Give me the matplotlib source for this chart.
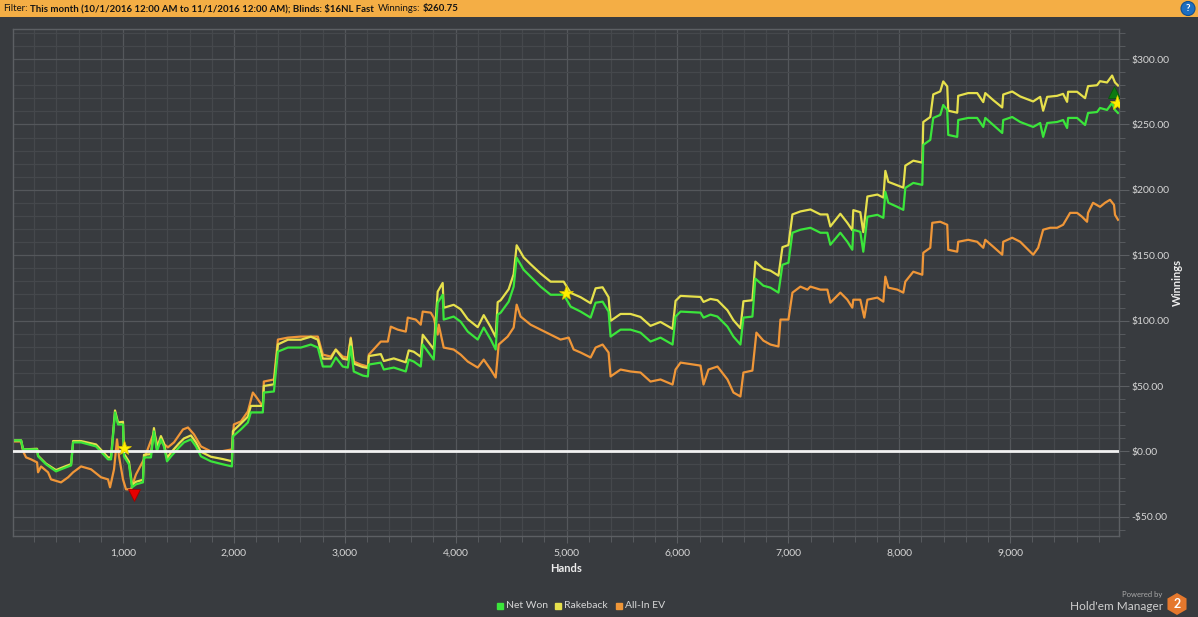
import matplotlib
matplotlib.use('Agg')
import matplotlib.pyplot as plt
from matplotlib.ticker import MultipleLocator, FuncFormatter
from matplotlib.patches import Rectangle, Circle, RegularPolygon
from matplotlib.lines import Line2D
from matplotlib.transforms import IdentityTransform

# ---------------- data ----------------
net_hands = [27, 81, 99, 225, 234, 279, 306, 396, 441, 486,
             532, 550, 622, 757, 865, 892, 928, 955, 1000, 1009,
             1054, 1081, 1117, 1180, 1189, 1252, 1279, 1306, 1342, 1369,
             1397, 1433, 1505, 1550, 1613, 1658, 1703, 1793, 1901, 1982,
             1991, 2063, 2126, 2153, 2261, 2270, 2361, 2397, 2487, 2604,
             2694, 2757, 2802, 2874, 2919, 2982, 3027, 3054, 3081, 3162,
             3208, 3217, 3325, 3352, 3442, 3550, 3577, 3622, 3685, 3703,
             3802, 3838, 3883, 3892, 3982, 4045, 4109, 4199, 4253, 4316,
             4361, 4379, 4406, 4478, 4523, 4550, 4613, 4676, 4766, 4856,
             4974, 5037, 5127, 5217, 5262, 5325, 5379, 5397, 5487, 5577,
             5667, 5757, 5847, 5956, 5983, 6028, 6208, 6235, 6298, 6361,
             6451, 6505, 6568, 6595, 6676, 6703, 6775, 6839, 6911, 6947,
             7001, 7037, 7109, 7199, 7289, 7352, 7379, 7469, 7532, 7577,
             7586, 7649, 7676, 7713, 7803, 7857, 7875, 7902, 7983, 8037,
             8055, 8127, 8208, 8217, 8280, 8307, 8370, 8397, 8433, 8442,
             8523, 8532, 8622, 8703, 8758, 8776, 8848, 8929, 8938, 9019,
             9091, 9208, 9271, 9298, 9334, 9424, 9478, 9514, 9523, 9604,
             9676, 9703, 9784, 9811, 9874, 9920, 9946, 9973]
net_won = [8.4, 8.4, 1.5, 1.5, -3.8, -7.6, -9.9, -15.3, -13.7, -12.2,
           -10.7, 6.9, 6.9, 3.8, -6.1, -6.1, 29.8, 20.6, 20.6, -3.8,
           -9.9, -27.5, -25.2, -23.7, -4.6, -4.6, 15.3, 0.0, 9.2, 3.8,
           -7.6, -3.8, 3.1, 6.9, 9.2, 3.8, -3.8, -7.6, -9.9, -11.5,
           11.5, 16.8, 22.1, 29.8, 29.8, 45.0, 45.8, 76.3, 79.4, 79.4,
           81.7, 79.4, 64.9, 64.9, 71.8, 64.9, 64.1, 80.2, 61.1, 58.0,
           57.3, 66.4, 67.9, 62.6, 64.1, 61.1, 70.2, 68.7, 64.9, 81.7,
           70.2, 113.7, 119.8, 100.8, 103.1, 99.2, 91.6, 85.5, 94.7, 85.5,
           77.9, 104.6, 106.1, 114.5, 126.0, 148.1, 138.9, 133.6, 126.0, 119.8,
           119.8, 110.7, 106.9, 102.3, 113.7, 114.5, 106.9, 87.8, 93.1, 93.1,
           90.8, 84.0, 87.0, 81.7, 103.1, 106.9, 106.1, 102.3, 104.6, 103.1,
           95.4, 87.8, 81.7, 102.3, 103.1, 132.1, 126.7, 125.2, 121.4, 142.7,
           144.3, 167.2, 169.5, 171.0, 167.2, 167.2, 158.0, 167.2, 160.3, 154.2,
           169.5, 167.9, 152.7, 179.4, 180.9, 178.6, 198.5, 190.1, 187.0, 184.7,
           201.5, 205.3, 203.8, 234.4, 238.2, 255.0, 257.3, 264.9, 261.1, 242.0,
           240.5, 253.4, 255.0, 255.0, 248.1, 255.0, 249.6, 243.5, 253.4, 255.7,
           251.9, 248.1, 251.1, 240.5, 251.1, 251.9, 253.4, 247.3, 255.0, 255.0,
           249.6, 258.8, 259.5, 262.6, 261.1, 266.4, 261.1, 258.8]
# cumulative rakeback at the same hands (Rakeback line = Net Won + rakeback)
rakeback = [0, 0, 0, 0.5, 0.5, 0.5, 0.5, 1, 1, 1,
            1, 1, 1, 1.5, 1.5, 1.5, 1.5, 1.5, 2, 2,
            2, 2, 2, 2, 2, 2.5, 2.5, 2.5, 2.5, 2.5,
            2.5, 3, 3, 3, 3, 3, 3.5, 3.5, 4, 4,
            4, 4.5, 4.5, 5, 5, 5, 5.5, 5.5, 6, 6,
            6, 6, 6, 6, 6, 6, 6, 6, 6, 6.5,
            6.5, 6.5, 6.5, 6.5, 7, 7, 7, 7.5, 7.5, 7.5,
            8, 8.5, 9, 9, 9, 9.5, 9.5, 9.5, 9.5, 9.5,
            9.5, 9.5, 9.5, 9.5, 9.5, 9.5, 9.5, 9.5, 10, 10,
            10, 10.5, 11, 11, 11, 11, 11, 12, 12, 12,
            12, 12, 12, 12, 12, 12, 12, 12, 12, 12.5,
            12.5, 12.5, 12.5, 12.5, 12.5, 13, 13, 13, 13, 13.5,
            13.5, 14, 14, 14, 14, 14, 14, 14.5, 14.5, 15,
            15, 15, 15, 15.5, 15.5, 15.5, 16, 16, 16.5, 17,
            17, 17, 17, 17.5, 17.5, 18, 18, 18, 18, 18.5,
            18.5, 18.5, 19, 19, 19, 19, 19, 19.5, 19.5, 19.5,
            19.5, 19.5, 20, 20, 20, 20, 20, 20, 20, 20,
            20.5, 20.5, 20.5, 20.5, 21, 21, 21, 21]

ev_hands = [27, 81, 99, 126, 171, 225, 234, 261, 324, 351,
            441, 505, 550, 622, 712, 802, 865, 883, 919, 946,
            964, 1000, 1027, 1072, 1117, 1189, 1279, 1315, 1342, 1405,
            1460, 1541, 1586, 1640, 1703, 1793, 1883, 1982, 2000, 2063,
            2126, 2171, 2198, 2261, 2270, 2361, 2397, 2487, 2604, 2757,
            2802, 2874, 2919, 2982, 3027, 3054, 3081, 3144, 3208, 3217,
            3325, 3388, 3415, 3478, 3550, 3568, 3640, 3685, 3703, 3775,
            3802, 3838, 3847, 3892, 3982, 4045, 4109, 4199, 4253, 4316,
            4361, 4388, 4469, 4523, 4550, 4586, 4676, 4766, 4856, 4946,
            5019, 5064, 5127, 5217, 5262, 5325, 5379, 5397, 5487, 5577,
            5667, 5757, 5847, 5956, 5983, 6028, 6208, 6235, 6280, 6361,
            6451, 6505, 6568, 6595, 6676, 6712, 6775, 6839, 6911, 6929,
            7001, 7037, 7109, 7172, 7199, 7289, 7352, 7379, 7469, 7532,
            7577, 7586, 7649, 7685, 7713, 7803, 7857, 7875, 7902, 7983,
            8037, 8055, 8127, 8208, 8217, 8280, 8298, 8370, 8433, 8442,
            8523, 8532, 8622, 8703, 8758, 8776, 8848, 8929, 8938, 9019,
            9091, 9181, 9208, 9253, 9298, 9361, 9424, 9478, 9541, 9604,
            9649, 9694, 9703, 9748, 9811, 9856, 9901, 9937, 9946, 9973]
allin_ev = [7.6, 7.6, 0.0, -4.6, -6.1, -8.4, -16.0, -11.5, -16.0, -21.4,
            -23.7, -19.8, -16.0, -11.5, -13.7, -19.8, -21.4, -27.5, -13.7, 9.2,
            -3.8, -21.4, -29.0, -29.0, -17.6, -6.1, 14.5, 3.8, 7.6, 3.1,
            6.9, 16.8, 18.3, 13.0, 3.8, 0.0, 0.0, 1.5, 20.6, 22.9,
            30.5, 45.0, 42.0, 34.4, 53.4, 55.0, 85.5, 87.0, 87.8, 87.8,
            74.0, 72.5, 77.9, 72.5, 71.8, 87.0, 68.7, 66.4, 64.9, 74.0,
            84.0, 84.0, 95.4, 93.1, 91.6, 102.3, 100.8, 96.9, 106.9, 106.1,
            102.3, 89.3, 96.9, 79.4, 77.9, 74.0, 68.7, 64.1, 70.2, 62.6,
            56.5, 81.7, 87.8, 94.7, 112.2, 103.1, 96.9, 93.1, 89.3, 85.5,
            87.0, 77.9, 75.6, 71.8, 79.4, 81.7, 75.6, 57.3, 62.6, 61.1,
            60.3, 53.4, 55.0, 51.1, 62.6, 67.9, 65.6, 51.1, 62.6, 64.9,
            55.0, 45.0, 42.0, 60.3, 61.8, 90.8, 84.7, 81.7, 80.2, 100.8,
            100.8, 121.4, 126.0, 123.7, 126.0, 123.7, 123.7, 113.7, 121.4, 116.0,
            109.9, 116.0, 116.0, 102.3, 116.0, 117.6, 114.5, 133.6, 125.2, 123.7,
            121.4, 129.8, 137.4, 135.1, 151.9, 155.7, 174.8, 175.6, 173.3, 154.2,
            152.7, 160.3, 161.8, 160.3, 155.7, 161.8, 156.5, 150.4, 160.3, 163.4,
            160.3, 152.7, 150.4, 155.7, 169.5, 171.0, 171.0, 173.3, 182.4, 182.4,
            179.4, 175.6, 182.4, 190.1, 187.0, 190.1, 192.4, 188.5, 180.9, 177.1]

rakeback_line = [n + r for n, r in zip(net_won, rakeback)]

series_names = ['Net Won', 'Rakeback', 'All-In EV']
series_colors = ['#3be53b', '#e6e04c', '#ef9638']

# event markers: (hands, winnings)
star_points = [(1009, 2.3), (4992, 121.4), (9965, 266.4)]
low_point = (1099, -33.6)
high_point = (9938, 274.8)

x_ticks = [1000, 2000, 3000, 4000, 5000, 6000, 7000, 8000, 9000]
y_ticks = [-50, 0, 50, 100, 150, 200, 250, 300]

header_pieces = [('Filter:', 'normal'),
                 ('This month (10/1/2016 12:00 AM to 11/1/2016 12:00 AM); Blinds: $16NL Fast', 'bold'),
                 ('Winnings:', 'normal'),
                 ('$260.75', 'bold')]

# ---------------- style ----------------
W, H = 1198, 617
BG = '#383b3f'
FONT = 'Lato'
plt.rcParams['font.family'] = [FONT, 'DejaVu Sans']

fig = plt.figure(figsize=(W / 100, H / 100), dpi=100, facecolor=BG)
ax = fig.add_axes([13 / W, 1 - 536 / H, (1119 - 13) / W, (536 - 29) / H])
ax.set_facecolor(BG)

ax.plot(ev_hands, allin_ev, color=series_colors[2], lw=1.6, zorder=3)
ax.plot(net_hands, rakeback_line, color=series_colors[1], lw=1.6, zorder=4)
ax.plot(net_hands, net_won, color=series_colors[0], lw=1.6, zorder=5)
ax.axhline(0, color='#f2f2f2', lw=2.0, zorder=6)

for hx, hy in star_points:
    ax.plot([hx], [hy], marker='*', ms=11, color='#ffee00', mec='#d9c200', mew=0.5, zorder=8)
ax.plot([low_point[0]], [low_point[1]], marker='v', ms=9, color='#e80000', mec='#a00000', mew=0.6, zorder=8)
ax.plot([high_point[0]], [high_point[1]], marker='^', ms=9, color='#0c7a12', mec='#065a0a', mew=0.6, zorder=7)

ax.set_xlim(8, 9982)
ax.set_ylim(-64.7, 323)
ax.set_xticks(x_ticks)
ax.set_yticks(y_ticks)
ax.xaxis.set_minor_locator(MultipleLocator(200))
ax.yaxis.set_minor_locator(MultipleLocator(10))
ax.xaxis.set_major_formatter(FuncFormatter(lambda v, p: f'{int(v):,}'))
ax.yaxis.set_major_formatter(FuncFormatter(lambda v, p: f'-${abs(v):.2f}' if v < 0 else f'${v:.2f}'))
ax.yaxis.tick_right()

ax.grid(which='major', color='#54575b', lw=0.9, zorder=0)
ax.grid(which='minor', color='#45484c', lw=0.9, zorder=0)
ax.set_axisbelow(True)
for s in ax.spines.values():
    s.set_color('#5c5f63')
    s.set_linewidth(1.0)

ax.tick_params(which='both', colors='#5c5f63', labelcolor='#d6d6d6', labelsize=7.5)
ax.tick_params(axis='y', which='major', length=7, pad=2)
ax.tick_params(axis='y', which='minor', length=4)
ax.tick_params(axis='x', which='major', length=5, pad=4)
ax.tick_params(axis='x', which='minor', length=4)

fig.text(566 / W, 1 - 569 / H, 'Hands', ha='center', va='center',
         fontsize=8, fontweight='bold', color='#ececec')
fig.text(1177 / W, 1 - 282 / H, 'Winnings', ha='center', va='center', rotation=90,
         fontsize=8, fontweight='bold', color='#ececec')

# header bar
fig.add_artist(Rectangle((0, 1 - 17 / H), 1, 17 / H, transform=fig.transFigure,
                         facecolor='#f4ae45', edgecolor='none', zorder=0))
renderer = fig.canvas.get_renderer()
xpos = 3
for txt, wt in header_pieces:
    t = fig.text(xpos / W, 1 - 8.5 / H, txt, ha='left', va='center', fontsize=6.9,
                 fontweight=wt, color='#141414')
    bb = t.get_window_extent(renderer)
    xpos += bb.width + 3
# help icon (pixel coordinates)
px = IdentityTransform()
fig.add_artist(Circle((1188, H - 8.5), 7, transform=px,
                      facecolor='#1d6fc2', edgecolor='#0f4f92', lw=0.8, zorder=5))
fig.text(1188 / W, 1 - 8.5 / H, '?', ha='center', va='center', fontsize=7,
         fontweight='bold', color='white', zorder=6)

# legend
leg_x = [500, 558, 619]
for lx, name, col in zip(leg_x, series_names, series_colors):
    fig.add_artist(Line2D([lx / W], [1 - 606 / H], marker='s', ms=4, color=col,
                          transform=fig.transFigure, linestyle='none'))
    fig.text((lx + 6) / W, 1 - 606 / H, name, ha='left', va='center', fontsize=7.5,
             color='#d6d6d6')

# powered by logo
fig.text(1162 / W, 1 - 595 / H, 'Powered by', ha='right', va='center', fontsize=5.5, color='#a8a8a8')
fig.text(1163 / W, 1 - 607 / H, "Hold'em Manager", ha='right', va='center', fontsize=8.5, color='#cfcfcf')
fig.add_artist(RegularPolygon((1177, H - 604), 6, radius=11, orientation=0,
                              transform=px, facecolor='#e5782d', edgecolor='none'))
fig.text(1177 / W, 1 - 604 / H, '2', ha='center', va='center', fontsize=9,
         fontweight='bold', color='white')

fig.savefig('out.png', dpi=100, facecolor=BG)
